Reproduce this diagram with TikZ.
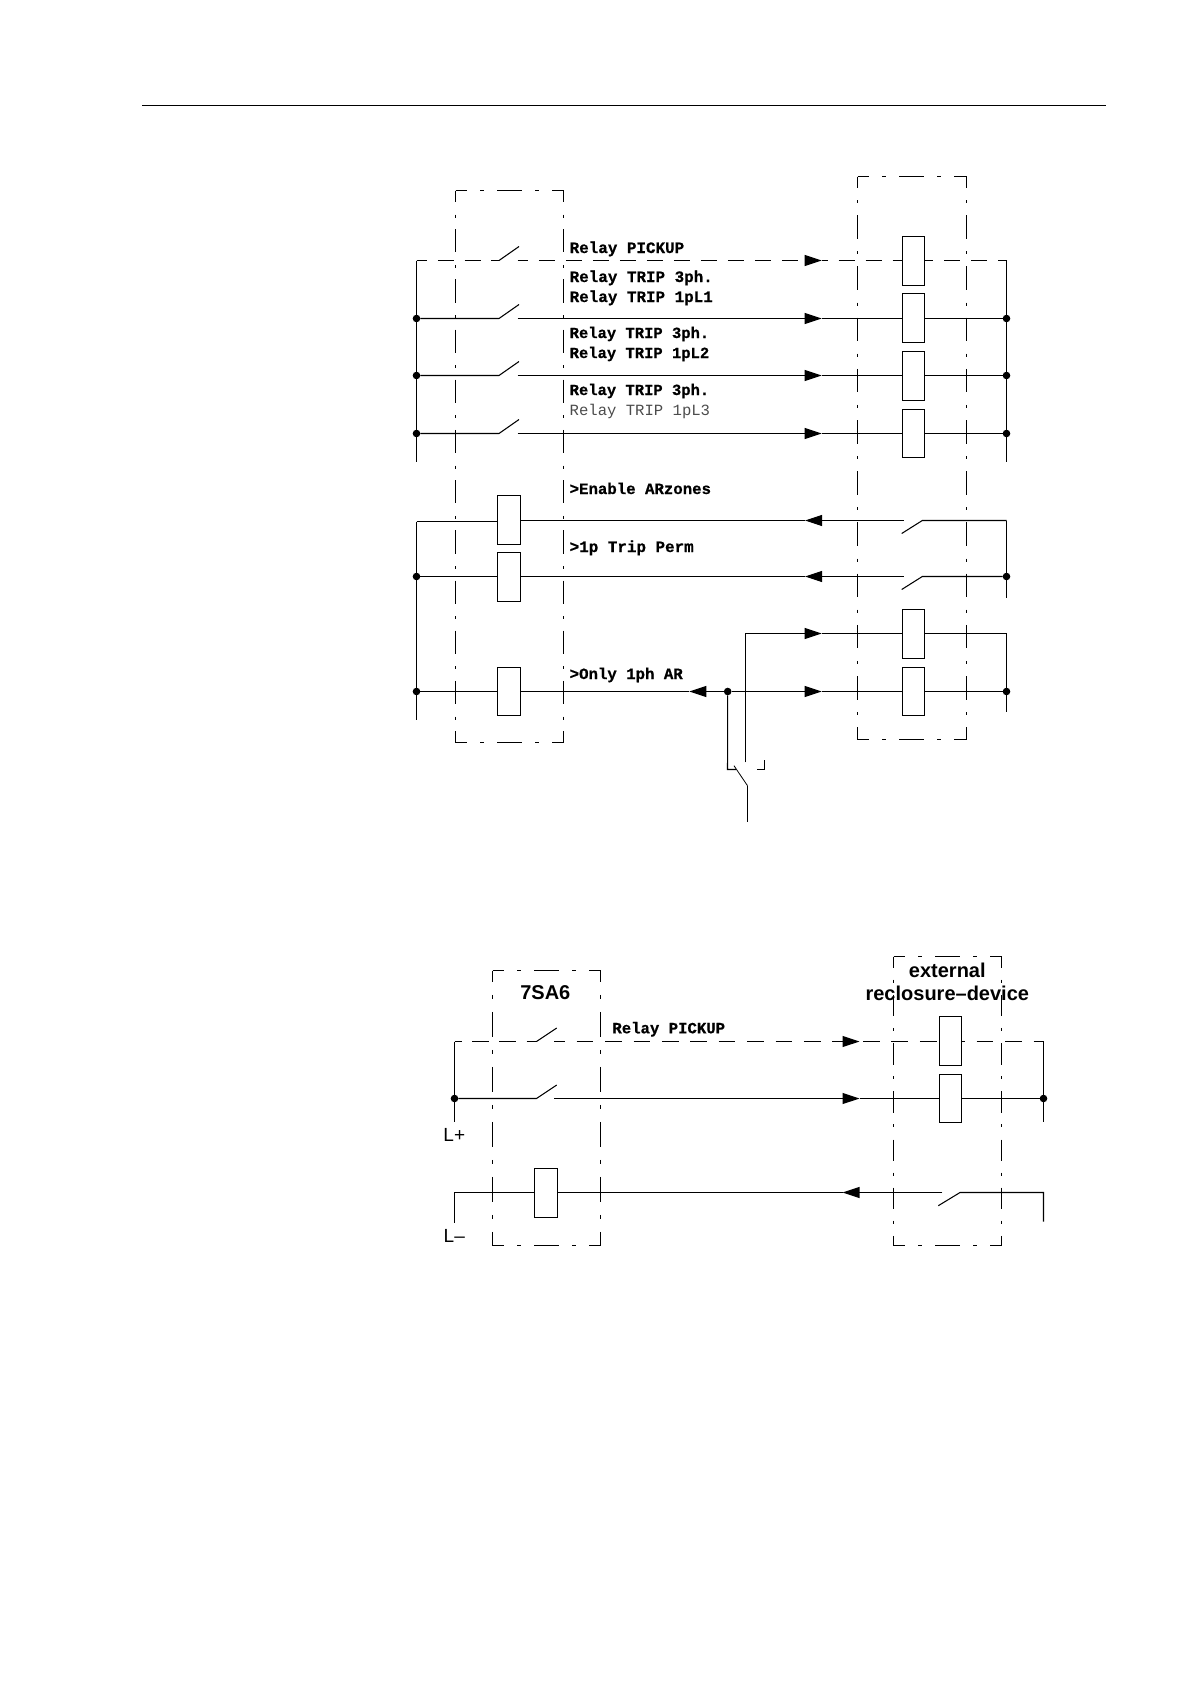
\documentclass[tikz,border=0pt]{standalone}
\usepackage{fontspec}
\setmainfont{Liberation Sans}
\newfontfamily\monof{Liberation Mono}
\newfontfamily\monob[UprightFont={* Bold},FakeBold=0.6]{Liberation Mono}
\usetikzlibrary{arrows.meta}
\tikzset{
  x=1pt,y=-1pt,
  wire/.style={line width=1.05pt,line cap=butt,line join=miter},
  sigU/.style={wire,dash pattern=on 16pt off 11pt},
  sigL/.style={wire,dash pattern=on 16.7pt off 11.7pt},
  tip/.style={wire,-{Triangle[length=17pt,width=11pt]}},
  sigtipU/.style={sigU,-{Triangle[length=17pt,width=11pt]}},
  sigtipL/.style={sigL,-{Triangle[length=17pt,width=11pt]}},
  relay/.style={draw,fill=white,line width=1.05pt,minimum width=22pt,minimum height=49pt,inner sep=0pt,outer sep=0pt},
  wrelay/.style={relay,minimum width=23pt},
  dot/.style={circle,fill=black,inner sep=0pt,minimum size=7.6pt,outer sep=0pt},
  devbox/.style={anchor=north west,inner sep=0pt,outer sep=0pt},
  hedge/.style={line width=1.05pt,line cap=butt,dash pattern=on 25pt off 13pt on 4pt off 13pt,dash phase=13.3pt},
  vedgeA/.style={line width=1.05pt,line cap=butt,dash pattern=on 23.3pt off 12.4pt on 3pt off 11.5pt,dash phase=11.6pt},
  vedgeB/.style={line width=1.05pt,line cap=butt,dash pattern=on 23.5pt off 12.6pt on 3pt off 12.1pt,dash phase=12.5pt},
  vedgeC/.style={line width=1.05pt,line cap=butt,dash pattern=on 25pt off 13pt on 4pt off 13pt,dash phase=13.7pt},
  vedgeD/.style={line width=1.05pt,line cap=butt,dash pattern=on 21.5pt off 11.5pt on 3pt off 12.2pt,dash phase=9.8pt},
  lab/.style={anchor=base west,inner sep=0pt,font=\monob\fontsize{15.7}{18}\selectfont},
  labW/.style={anchor=base west,inner sep=0pt,font=\monob\fontsize{15.9}{18}\selectfont},
  labN/.style={anchor=base west,inner sep=0pt,font=\monob\fontsize{15.5}{18}\selectfont},
  labthin/.style={anchor=base west,inner sep=0pt,font=\monof\fontsize{15.6}{18}\selectfont,text=black!70},
  head/.style={anchor=base,inner sep=0pt,font=\bfseries\fontsize{20}{24}\selectfont},
  rail/.style={anchor=base,inner sep=0pt,font=\fontsize{19}{22}\selectfont},
}
\begin{document}
\begin{tikzpicture}
\useasboundingbox (0,0) rectangle (1190,1682);
\coordinate (ruleA) at (142,105.5);
\coordinate (ruleB) at (1106,105.5);
\draw[line width=1.05pt] (ruleA) -- (ruleB);

% device boxes
\node[devbox,minimum width=108pt,minimum height=552pt] (boxL) at (455.5,190.5) {};
\node[devbox,minimum width=109pt,minimum height=563pt] (boxR) at (857.5,176.5) {};
\node[devbox,minimum width=108pt,minimum height=275pt] (boxLb) at (492.5,970.5) {};
\node[devbox,minimum width=108pt,minimum height=289pt] (boxRb) at (893.5,956.5) {};
\foreach \b/\v in {boxL/vedgeA,boxR/vedgeB,boxLb/vedgeC,boxRb/vedgeD}{
  \draw[hedge] (\b.north west) -- (\b.north east);
  \draw[hedge] (\b.south west) -- (\b.south east);
  \draw[\v] (\b.north west) -- (\b.south west);
  \draw[\v] (\b.north east) -- (\b.south east);
}

% upper diagram: relay coils
\node[relay] (rp) at (913.5,261) {};
\foreach \n/\y/\c/\h in {1/318.5/318/49,2/375.5/376/49,3/433.5/433.5/48}{
  \node[relay,minimum height=\h pt] (rt\n) at (913.5,\c) {};
  \node[dot] (dl\n) at (416.5,\y) {};
  \node[dot] (dr\n) at (1006.5,\y) {};
  \coordinate (sa\n) at (499,\y);
  \coordinate (sb\n) at (519,\y-14);
  \coordinate (sc\n) at (517.5,\y);
  \coordinate (ta\n) at (821.7,\y);
  \draw[wire] (dl\n) -- (sa\n) -- (sb\n);
  \draw[tip] (sc\n) -- (ta\n);
  \draw[wire] (ta\n) -- (rt\n.west |- ta\n);
  \draw[wire] (rt\n.east |- ta\n) -- (dr\n);
}
% pickup line
\coordinate (cpl) at (416.5,260.5);
\coordinate (cpr) at (1006.5,260.5);
\coordinate (spa) at (499,260.5);
\coordinate (spb) at (519,246.5);
\coordinate (spc) at (517.5,260.5);
\coordinate (tpa) at (821.7,260.5);
\draw[wire,dash pattern=on 16pt off 10.7pt,dash phase=5.3pt] (cpl) -- (spa);
\draw[wire] (spa) -- (spb);
\draw[sigtipU,dash phase=5.6pt] (spc) -- (tpa);
\draw[sigU,dash phase=10pt] (tpa) -- (rp.west |- tpa);
\draw[sigU,dash phase=7.4pt] (rp.east |- tpa) -- (cpr);
\coordinate (busLe) at (416.5,461.5);
\coordinate (busRe) at (1006.5,461.5);
\draw[wire] (cpl) -- (dl1) -- (dl2) -- (dl3) -- (busLe);
\draw[wire] (cpr) -- (dr1) -- (dr2) -- (dr3) -- (busRe);

% lower rows of the upper diagram
\node[wrelay] (ca) at (509,520) {};
\node[wrelay] (cb) at (509,577) {};
\node[wrelay,minimum height=48pt] (cc) at (509,691.5) {};
\node[relay] (rq) at (913.5,634) {};
\node[relay,minimum height=48pt] (rr) at (913.5,691.5) {};
\node[dot] (dlb) at (416.5,576.5) {};
\node[dot] (dlc) at (416.5,691.5) {};
\node[dot] (drb) at (1006.5,576.5) {};
\node[dot] (drc) at (1006.5,691.5) {};
\node[dot] (dm) at (727.7,691.5) {};

\coordinate (cal) at (416.5,521.5);
\coordinate (bl2e) at (416.5,720);
\draw[wire] (cal) -- (ca.west |- cal);
\draw[wire] (cal) -- (dlb) -- (dlc) -- (bl2e);
\draw[wire] (dlb) -- (cb.west |- dlb);
\draw[wire] (dlc) -- (cc);

\coordinate (car) at (1006.5,520.5);
\coordinate (br2e) at (1006.5,597.7);
\coordinate (sA1) at (922.3,520.5);
\coordinate (sA2) at (901.7,533.5);
\coordinate (sA3) at (903.7,520.5);
\coordinate (tA) at (805,520.5);
\draw[wire] (car) -- (sA1) -- (sA2);
\draw[tip] (sA3) -- (tA);
\draw[wire] (tA) -- (ca.east |- tA);
\draw[wire] (car) -- (drb) -- (br2e);

\coordinate (sB1) at (922.3,576.5);
\coordinate (sB2) at (901.7,589.5);
\coordinate (sB3) at (903.7,576.5);
\coordinate (tB) at (805,576.5);
\draw[wire] (drb) -- (sB1) -- (sB2);
\draw[tip] (sB3) -- (tB);
\draw[wire] (tB) -- (cb.east |- tB);

\coordinate (vq0) at (745.5,762.3);
\coordinate (vq1) at (745.5,633.5);
\coordinate (tQ) at (821.7,633.5);
\coordinate (qr) at (1006.5,633.5);
\coordinate (br3e) at (1006.5,711.7);
\draw[tip] (vq0) -- (vq1) -- (tQ);
\draw[wire] (tQ) -- (rq.west |- tQ);
\draw[wire] (rq.east |- tQ) -- (qr) -- (drc) -- (br3e);
\coordinate (tR) at (821.7,691.5);
\coordinate (tL) at (689.3,691.5);
\draw[tip] (dm) -- (tR);
\draw[wire] (tR) -- (rr);
\draw[wire] (rr) -- (drc);
\draw[tip] (dm) -- (tL);
\draw[wire] (tL) -- (cc);

% selector switch
\coordinate (k1) at (727.5,769.5);
\coordinate (k2) at (736,769.5);
\coordinate (k3) at (734,765.7);
\coordinate (k4) at (747.5,785.7);
\coordinate (k5) at (747.5,821.7);
\coordinate (k6) at (757,769.5);
\coordinate (k7) at (764.5,769.5);
\coordinate (k8) at (764.5,760);
\draw[wire] (dm) -- (k1) -- (k2);
\draw[line width=.8pt] (k3) -- (k4);
\draw[wire] (k4) -- (k5);
\draw[wire] (k6) -- (k7) -- (k8);

% labels, upper diagram
\node[labW] (t1) at (569.5,253) {Relay PICKUP};
\node[labW] (t2) at (569.5,282) {Relay TRIP 3ph.};
\node[labW] (t3) at (569.5,302) {Relay TRIP 1pL1};
\node[labN] (t4) at (569.5,338) {Relay TRIP 3ph.};
\node[labN] (t5) at (569.5,358) {Relay TRIP 1pL2};
\node[labN] (t6) at (569.5,395) {Relay TRIP 3ph.};
\node[labthin] (t7) at (569.5,415.5) {Relay TRIP 1pL3};
\node[lab] (t8) at (569.5,494) {>Enable ARzones};
\node[labW] (t9) at (569.5,552) {>1p Trip Perm};
\node[lab] (t10) at (569.5,679) {>Only 1ph AR};

% lower diagram
\node[relay] (Rp) at (950.5,1041) {};
\node[relay,minimum height=48pt] (Rt) at (950.5,1098.5) {};
\node[wrelay] (Cl) at (546,1193) {};
\node[dot] (Dl) at (454.5,1098.5) {};
\node[dot] (Dr) at (1043.5,1098.5) {};
\coordinate (Cpl) at (454.5,1041.5);
\coordinate (Cpr) at (1043.5,1041.5);
\coordinate (Lbe) at (454.5,1122.3);
\coordinate (Rbe) at (1043.5,1122.3);
\coordinate (Spa) at (536.5,1041.5);
\coordinate (Spb) at (556.7,1028);
\coordinate (Spc) at (554,1041.5);
\coordinate (Tp) at (859.5,1041.5);
\draw[wire,dash pattern=on 16.7pt off 10.5pt,dash phase=9.5pt] (Cpl) -- (Spa);
\draw[wire] (Spa) -- (Spb);
\draw[sigtipL,dash phase=5.7pt] (Spc) -- (Tp);
\draw[sigL,dash phase=24.9pt] (Tp) -- (Rp.west |- Tp);
\draw[sigL,dash phase=13.2pt] (Rp.east |- Tp) -- (Cpr);
\draw[wire] (Cpl) -- (Dl) -- (Lbe);
\draw[wire] (Cpr) -- (Dr) -- (Rbe);
\coordinate (Sta) at (536.5,1098.5);
\coordinate (Stb) at (556.7,1085);
\coordinate (Stc) at (554,1098.5);
\coordinate (Tt) at (859.5,1098.5);
\draw[wire] (Dl) -- (Sta) -- (Stb);
\draw[tip] (Stc) -- (Tt);
\draw[wire] (Tt) -- (Rt);
\draw[wire] (Rt) -- (Dr);
\coordinate (Clb) at (454.5,1192.5);
\coordinate (Cle) at (454.5,1222.7);
\coordinate (Crb) at (1043.5,1192.5);
\coordinate (Cre) at (1043.5,1221.7);
\coordinate (Sl1) at (960,1192.5);
\coordinate (Sl2) at (938.3,1205.7);
\coordinate (Sl3) at (942.3,1192.5);
\coordinate (Tl) at (842.5,1192.5);
\draw[wire] (Cle) -- (Clb) -- (Cl.west |- Clb);
\draw[wire] (Cre) -- (Crb) -- (Sl1) -- (Sl2);
\draw[tip] (Sl3) -- (Tl);
\draw[wire] (Tl) -- (Cl.east |- Tl);

\node[labN,font=\monob\fontsize{15.65}{18}\selectfont] (T1) at (612.2,1033.3) {Relay PICKUP};
\node[head] (T2) at (545.3,999.3) {7SA6};
\node[head] (T3) at (947.3,977) {external};
\node[head] (T4) at (947.3,1000) {reclosure–device};
\node[rail] (T5) at (454.3,1141) {L+};
\node[rail] (T6) at (454.3,1242.7) {L–};
\end{tikzpicture}
\end{document}
